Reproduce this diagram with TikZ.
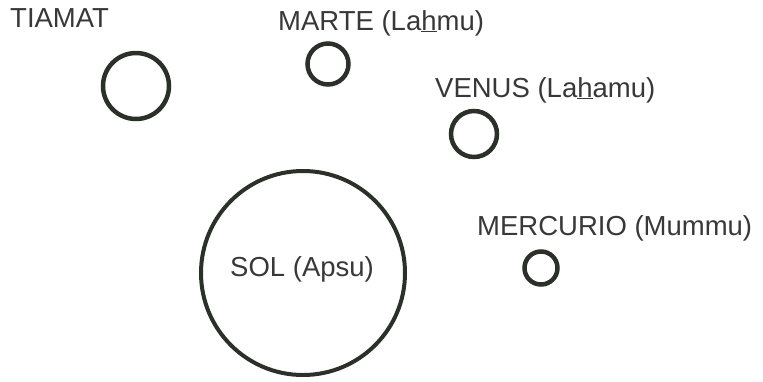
\documentclass[tikz,border=0pt]{standalone}
\usepackage{fontspec}
\setmainfont{Liberation Sans}

\definecolor{ink}{HTML}{2B302B}
\definecolor{labelgray}{HTML}{383838}

\begin{document}
\begin{tikzpicture}[
        x=1pt, y=-1pt,
        font=\fontsize{27.5}{30}\selectfont,
        planet/.style={draw=ink, circle, line width=4.5pt, inner sep=0pt},
        sun/.style={draw=ink, circle, line width=4pt, inner sep=0pt, minimum size=204pt},
        bodylabel/.style={text=labelgray, anchor=base west, inner sep=0pt}
    ]
        \useasboundingbox (0,0) rectangle (763,381);

        % the sun and the four bodies
        \node[sun] (sol) at (303,273) {};
        \node[planet, minimum size=66pt] (tiamat) at (136,86) {};
        \node[planet, minimum size=41pt] (marte) at (328,64) {};
        \node[planet, minimum size=46pt] (venus) at (474,134) {};
        \node[planet, minimum size=33pt] (mercurio) at (541,268) {};

        % names
        \node[bodylabel] (soltext) at (230,276) {SOL (Apsu)};
        \node[bodylabel] (tiamattext) at (10,27) {TIAMAT};
        \node[bodylabel] (martetext) at (278,30) {MARTE (La\underline{h}mu)};
        \node[bodylabel] (venustext) at (435,97) {VENUS (La\underline{h}amu)};
        \node[bodylabel] (mercuriotext) at (477,235) {MERCURIO (Mummu)};
    \end{tikzpicture}
\end{document}
